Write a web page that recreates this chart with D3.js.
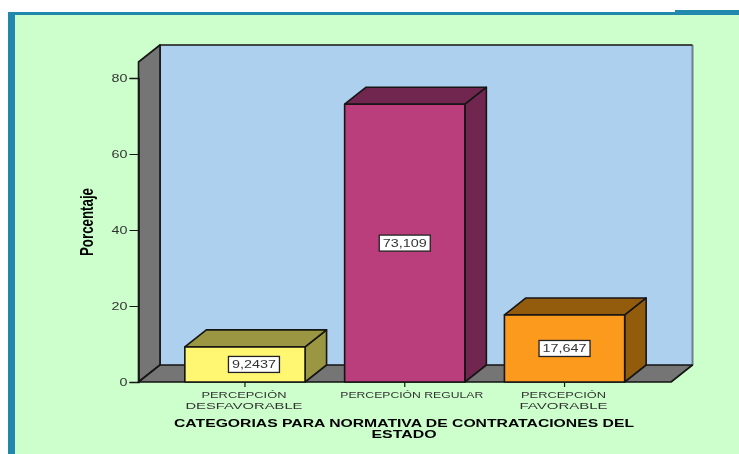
<!DOCTYPE html>
<html>
<head>
<meta charset="utf-8">
<script src="https://cdn.jsdelivr.net/npm/d3@7"></script>
<style>
    html, body { margin: 0; padding: 0; background: #fff; }
    svg { display: block; font-family: "Liberation Sans", Arial, sans-serif; }
</style>
</head>
<body>
<svg id="chart" width="739" height="454"></svg>
<script>
const categories = ["PERCEPCIÓN DESFAVORABLE", "PERCEPCIÓN REGULAR", "PERCEPCIÓN FAVORABLE"];
const categoryLines = [["PERCEPCIÓN", "DESFAVORABLE"], ["PERCEPCIÓN REGULAR"], ["PERCEPCIÓN", "FAVORABLE"]];
const values = [9.2437, 73.109, 17.647];
const valueLabels = ["9,2437", "73,109", "17,647"];
const yTicks = [0, 20, 40, 60, 80];
const frontColors = ["#fff671", "#ba3e7c", "#fb9a1e"];
const sideColors = ["#9a9643", "#71274f", "#935c11"];
const xTitleLines = ["CATEGORIAS PARA NORMATIVA DE CONTRATACIONES DEL", "ESTADO"];
const yTitle = "Porcentaje";

const root = d3.select("#chart");

// the original is a slightly soft screenshot
root.append("filter")
    .attr("id", "soft")
    .attr("filterUnits", "userSpaceOnUse")
    .attr("x", 0).attr("y", 0).attr("width", 739).attr("height", 454)
    .append("feGaussianBlur")
    .attr("stdDeviation", 0.35);

const svg = root.append("g").attr("filter", "url(#soft)");

const plotLeft = 138.5,
    plotRight = 671,
    plotBottom = 382,
    plotTop = 62,
    depthX = 21.5,
    depthY = -17,
    edge = "#141414",
    edgeWidth = 1.6,
    textGrey = "#333";

const y = d3.scaleLinear().domain([0, 80]).range([plotBottom, plotBottom - 304]);
const x = d3.scaleBand()
    .domain(categories)
    .range([plotLeft, plotRight])
    .paddingInner(0.2476)
    .paddingOuter(0.29);

// the page behind the chart: white strip, teal frame, green background
svg.append("rect").attr("width", 739).attr("height", 454).attr("fill", "#fff");
svg.append("rect").attr("x", 8).attr("y", 12).attr("width", 731).attr("height", 442).attr("fill", "#2389ae");
svg.append("rect").attr("x", 15).attr("y", 15).attr("width", 724).attr("height", 439).attr("fill", "#ccffcc");
svg.append("rect").attr("x", 675).attr("y", 10).attr("width", 64).attr("height", 3).attr("fill", "#2389ae");

const polygon = function (points, fill) {
    return svg.append("polygon")
        .attr("points", points.map(p => p.join(",")).join(" "))
        .attr("fill", fill)
        .attr("stroke", edge)
        .attr("stroke-width", edgeWidth)
        .attr("stroke-linejoin", "round");
};

// back wall, left wall, floor
svg.append("rect")
    .attr("x", plotLeft + depthX).attr("y", plotTop + depthY)
    .attr("width", plotRight - plotLeft).attr("height", plotBottom - plotTop)
    .attr("fill", "#acd0ee");
svg.append("path")
    .attr("d", `M${plotRight + depthX},${plotTop + depthY}V${plotBottom + depthY}`)
    .attr("fill", "none").attr("stroke", "#6d7f8e").attr("stroke-width", 2);
svg.append("path")
    .attr("d", `M${plotLeft + depthX},${plotBottom + depthY}V${plotTop + depthY}H${plotRight + depthX}`)
    .attr("fill", "none").attr("stroke", edge).attr("stroke-width", edgeWidth);
polygon([[plotLeft, plotTop], [plotLeft + depthX, plotTop + depthY], [plotLeft + depthX, plotBottom + depthY], [plotLeft, plotBottom]], "#757575");
polygon([[plotLeft, plotBottom], [plotLeft + depthX, plotBottom + depthY], [plotRight + depthX, plotBottom + depthY], [plotRight, plotBottom]], "#757575");

// y axis
const yAxis = svg.append("g")
    .attr("transform", `translate(${plotLeft},0)`)
    .call(d3.axisLeft(y).tickValues(yTicks).tickSize(9).tickPadding(2));
yAxis.select(".domain").attr("stroke", edge).attr("stroke-width", edgeWidth);
yAxis.selectAll("line").attr("stroke", edge);
yAxis.selectAll("text").attr("font-size", 11).attr("fill", textGrey).attr("font-family", "Liberation Sans")
    .each(function () {
        d3.select(this).attr("textLength", this.getComputedTextLength() * 1.3).attr("lengthAdjust", "spacingAndGlyphs");
    });

// x axis, only the tick marks come from the axis
const xAxis = svg.append("g")
    .attr("transform", `translate(0,${plotBottom})`)
    .call(d3.axisBottom(x).tickSize(5).tickFormat(""));
xAxis.select(".domain").remove();
xAxis.selectAll("line").attr("stroke", edge).attr("stroke-width", 1.2);

// bars
values.forEach(function (v, i) {
    const x0 = x(categories[i]),
        x1 = x0 + x.bandwidth(),
        top0 = y(v);
    polygon([[x1, plotBottom], [x1 + depthX, plotBottom + depthY], [x1 + depthX, top0 + depthY], [x1, top0]], sideColors[i]);
    polygon([[x0, top0], [x0 + depthX, top0 + depthY], [x1 + depthX, top0 + depthY], [x1, top0]], sideColors[i]);
    polygon([[x0, plotBottom], [x0, top0], [x1, top0], [x1, plotBottom]], frontColors[i]);
});

// value labels, the first one sits off the centre in the original
const labelShift = [9, 0, 0];
valueLabels.forEach(function (label, i) {
    const cx = x(categories[i]) + x.bandwidth() / 2 + labelShift[i],
        cy = (y(values[i]) + plotBottom) / 2;
    svg.append("rect")
        .attr("x", cx - 25.5).attr("y", cy - 8)
        .attr("width", 51).attr("height", 16)
        .attr("fill", "#fff").attr("stroke", "#222").attr("stroke-width", 1.3);
    svg.append("text")
        .attr("x", cx).attr("y", cy + 4)
        .attr("text-anchor", "middle")
        .attr("font-size", 11).attr("fill", textGrey)
        .attr("textLength", 44).attr("lengthAdjust", "spacingAndGlyphs")
        .text(label);
});

// category labels
const categoryShift = [-1, 7, -1];
const labelWidths = [117, 143, 88];
categoryLines.forEach(function (lines, i) {
    const cx = x(categories[i]) + x.bandwidth() / 2 + categoryShift[i];
    const label = svg.append("text")
        .attr("text-anchor", "middle")
        .attr("font-size", 9.2).attr("fill", textGrey);
    lines.forEach(function (line, j) {
        label.append("tspan")
            .attr("x", cx).attr("y", 398 + j * 10.7)
            .attr("textLength", lines.length > 1 && j === 0 ? 85 : labelWidths[i])
            .attr("lengthAdjust", "spacingAndGlyphs")
            .text(line);
    });
});

// axis titles
const titleWidths = [460, 65];
const xTitle = svg.append("text")
    .attr("text-anchor", "middle")
    .attr("font-size", 11.5).attr("font-weight", "bold").attr("fill", "#000");
xTitleLines.forEach(function (line, j) {
    xTitle.append("tspan")
        .attr("x", 404).attr("y", 427 + j * 11)
        .attr("textLength", titleWidths[j]).attr("lengthAdjust", "spacingAndGlyphs")
        .text(line);
});

svg.append("text")
    .attr("transform", "translate(92.5,222) rotate(-90)")
    .attr("text-anchor", "middle")
    .attr("font-size", 18).attr("font-weight", "bold").attr("fill", "#000")
    .attr("textLength", 68).attr("lengthAdjust", "spacingAndGlyphs")
    .text(yTitle);
</script>
</body>
</html>
